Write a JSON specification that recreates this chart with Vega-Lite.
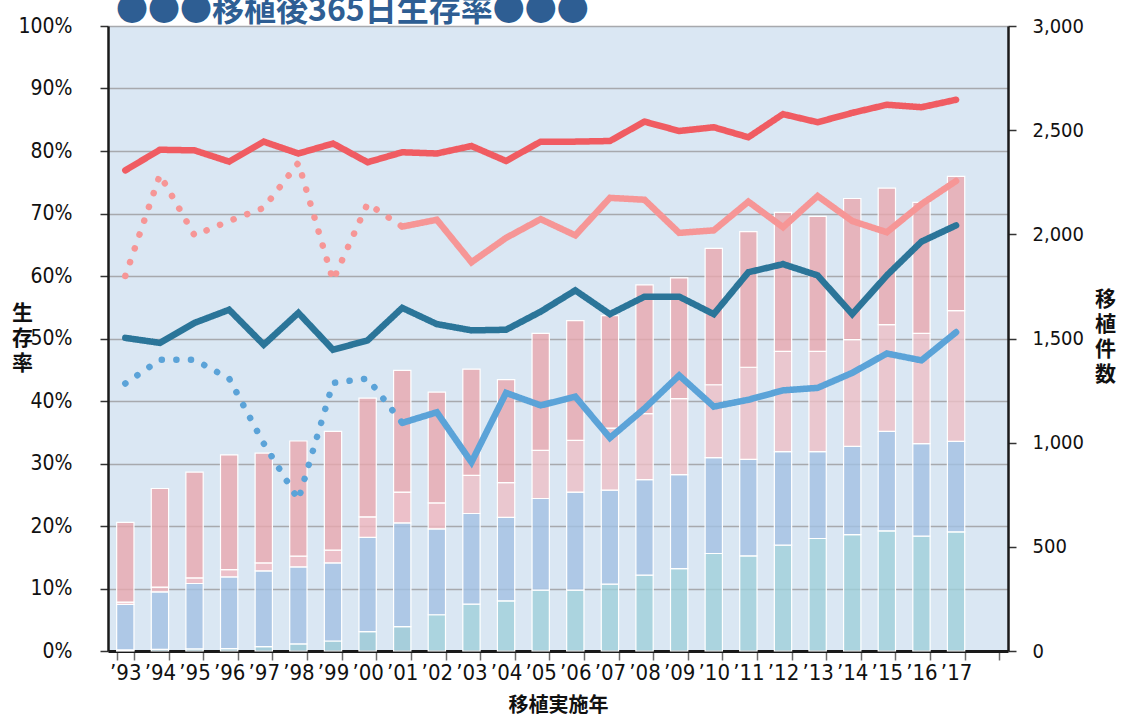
{
  "$schema": "https://vega.github.io/schema/vega-lite/v6.json",
  "width": 900,
  "height": 625,
  "autosize": {"type": "none"},
  "padding": {"left": 108, "top": 26, "right": 113, "bottom": 67},
  "background": "white",
  "config": {
    "view": {"fill": "#dae7f3", "stroke": null},
    "font": "Liberation Sans"
  },
  "title": {
    "text": "●●●移植後365日生存率●●●",
    "anchor": "start",
    "frame": "group",
    "orient": "top",
    "font": "Noto Sans CJK JP",
    "fontSize": 32,
    "fontWeight": "bold",
    "color": "#2e5e93",
    "offset": 0,
    "dx": 8,
    "dy": 38,
    "baseline": "alphabetic"
  },
  "datasets": {
    "bars": [
      {"year": "’93", "seg": "s1h", "n": 5}, {"year": "’93", "seg": "s2", "n": 219}, {"year": "’93", "seg": "s3h", "n": 11}, {"year": "’93", "seg": "s4", "n": 382},
      {"year": "’94", "seg": "s1h", "n": 8}, {"year": "’94", "seg": "s2", "n": 276}, {"year": "’94", "seg": "s3h", "n": 23}, {"year": "’94", "seg": "s4", "n": 473},
      {"year": "’95", "seg": "s1h", "n": 10}, {"year": "’95", "seg": "s2", "n": 314}, {"year": "’95", "seg": "s3h", "n": 27}, {"year": "’95", "seg": "s4", "n": 508},
      {"year": "’96", "seg": "s1h", "n": 11}, {"year": "’96", "seg": "s2", "n": 345}, {"year": "’96", "seg": "s3h", "n": 35}, {"year": "’96", "seg": "s4", "n": 550},
      {"year": "’97", "seg": "s1h", "n": 21}, {"year": "’97", "seg": "s2", "n": 364}, {"year": "’97", "seg": "s3h", "n": 38}, {"year": "’97", "seg": "s4", "n": 527},
      {"year": "’98", "seg": "s1h", "n": 34}, {"year": "’98", "seg": "s2", "n": 370}, {"year": "’98", "seg": "s3h", "n": 51}, {"year": "’98", "seg": "s4", "n": 553},
      {"year": "’99", "seg": "s1h", "n": 48}, {"year": "’99", "seg": "s2", "n": 375}, {"year": "’99", "seg": "s3h", "n": 61}, {"year": "’99", "seg": "s4", "n": 570},
      {"year": "’00", "seg": "s1h", "n": 93}, {"year": "’00", "seg": "s2", "n": 452}, {"year": "’00", "seg": "s3h", "n": 99}, {"year": "’00", "seg": "s4", "n": 570},
      {"year": "’01", "seg": "s1h", "n": 117}, {"year": "’01", "seg": "s2", "n": 498}, {"year": "’01", "seg": "s3h", "n": 148}, {"year": "’01", "seg": "s4", "n": 584},
      {"year": "’02", "seg": "s1", "n": 174}, {"year": "’02", "seg": "s2", "n": 412}, {"year": "’02", "seg": "s3h", "n": 125}, {"year": "’02", "seg": "s4", "n": 532},
      {"year": "’03", "seg": "s1", "n": 225}, {"year": "’03", "seg": "s2", "n": 435}, {"year": "’03", "seg": "s3", "n": 183}, {"year": "’03", "seg": "s4", "n": 510},
      {"year": "’04", "seg": "s1", "n": 241}, {"year": "’04", "seg": "s2", "n": 400}, {"year": "’04", "seg": "s3", "n": 167}, {"year": "’04", "seg": "s4", "n": 495},
      {"year": "’05", "seg": "s1", "n": 292}, {"year": "’05", "seg": "s2", "n": 440}, {"year": "’05", "seg": "s3", "n": 231}, {"year": "’05", "seg": "s4", "n": 562},
      {"year": "’06", "seg": "s1", "n": 292}, {"year": "’06", "seg": "s2", "n": 471}, {"year": "’06", "seg": "s3", "n": 248}, {"year": "’06", "seg": "s4", "n": 575},
      {"year": "’07", "seg": "s1", "n": 321}, {"year": "’07", "seg": "s2", "n": 451}, {"year": "’07", "seg": "s3", "n": 298}, {"year": "’07", "seg": "s4", "n": 540},
      {"year": "’08", "seg": "s1", "n": 364}, {"year": "’08", "seg": "s2", "n": 459}, {"year": "’08", "seg": "s3", "n": 316}, {"year": "’08", "seg": "s4", "n": 618},
      {"year": "’09", "seg": "s1", "n": 395}, {"year": "’09", "seg": "s2", "n": 452}, {"year": "’09", "seg": "s3", "n": 364}, {"year": "’09", "seg": "s4", "n": 580},
      {"year": "’10", "seg": "s1", "n": 468}, {"year": "’10", "seg": "s2", "n": 460}, {"year": "’10", "seg": "s3", "n": 350}, {"year": "’10", "seg": "s4", "n": 655},
      {"year": "’11", "seg": "s1", "n": 457}, {"year": "’11", "seg": "s2", "n": 463}, {"year": "’11", "seg": "s3", "n": 442}, {"year": "’11", "seg": "s4", "n": 651},
      {"year": "’12", "seg": "s1", "n": 508}, {"year": "’12", "seg": "s2", "n": 449}, {"year": "’12", "seg": "s3", "n": 481}, {"year": "’12", "seg": "s4", "n": 667},
      {"year": "’13", "seg": "s1", "n": 540}, {"year": "’13", "seg": "s2", "n": 417}, {"year": "’13", "seg": "s3", "n": 481}, {"year": "’13", "seg": "s4", "n": 648},
      {"year": "’14", "seg": "s1", "n": 559}, {"year": "’14", "seg": "s2", "n": 423}, {"year": "’14", "seg": "s3", "n": 513}, {"year": "’14", "seg": "s4", "n": 677},
      {"year": "’15", "seg": "s1", "n": 577}, {"year": "’15", "seg": "s2", "n": 477}, {"year": "’15", "seg": "s3", "n": 513}, {"year": "’15", "seg": "s4", "n": 655},
      {"year": "’16", "seg": "s1", "n": 551}, {"year": "’16", "seg": "s2", "n": 444}, {"year": "’16", "seg": "s3", "n": 530}, {"year": "’16", "seg": "s4", "n": 628},
      {"year": "’17", "seg": "s1", "n": 572}, {"year": "’17", "seg": "s2", "n": 434}, {"year": "’17", "seg": "s3", "n": 628}, {"year": "’17", "seg": "s4", "n": 644}
    ],
    "lines": [
      {"year": "’93", "series": "L1", "period": "b", "pct": 76.9},
      {"year": "’94", "series": "L1", "period": "b", "pct": 80.2},
      {"year": "’95", "series": "L1", "period": "b", "pct": 80.1},
      {"year": "’96", "series": "L1", "period": "b", "pct": 78.3},
      {"year": "’97", "series": "L1", "period": "b", "pct": 81.5},
      {"year": "’98", "series": "L1", "period": "b", "pct": 79.6},
      {"year": "’99", "series": "L1", "period": "b", "pct": 81.2},
      {"year": "’00", "series": "L1", "period": "b", "pct": 78.2},
      {"year": "’01", "series": "L1", "period": "b", "pct": 79.8},
      {"year": "’02", "series": "L1", "period": "b", "pct": 79.6},
      {"year": "’03", "series": "L1", "period": "b", "pct": 80.8},
      {"year": "’04", "series": "L1", "period": "b", "pct": 78.4},
      {"year": "’05", "series": "L1", "period": "b", "pct": 81.5},
      {"year": "’06", "series": "L1", "period": "b", "pct": 81.5},
      {"year": "’07", "series": "L1", "period": "b", "pct": 81.6},
      {"year": "’08", "series": "L1", "period": "b", "pct": 84.7},
      {"year": "’09", "series": "L1", "period": "b", "pct": 83.2},
      {"year": "’10", "series": "L1", "period": "b", "pct": 83.8},
      {"year": "’11", "series": "L1", "period": "b", "pct": 82.2},
      {"year": "’12", "series": "L1", "period": "b", "pct": 85.9},
      {"year": "’13", "series": "L1", "period": "b", "pct": 84.6},
      {"year": "’14", "series": "L1", "period": "b", "pct": 86.1},
      {"year": "’15", "series": "L1", "period": "b", "pct": 87.4},
      {"year": "’16", "series": "L1", "period": "b", "pct": 87.0},
      {"year": "’17", "series": "L1", "period": "b", "pct": 88.2},

      {"year": "’93", "series": "L2", "period": "a", "pct": 60.0},
      {"year": "’94", "series": "L2", "period": "a", "pct": 76.2},
      {"year": "’95", "series": "L2", "period": "a", "pct": 66.5},
      {"year": "’96", "series": "L2", "period": "a", "pct": 68.8},
      {"year": "’97", "series": "L2", "period": "a", "pct": 70.9},
      {"year": "’98", "series": "L2", "period": "a", "pct": 78.1},
      {"year": "’99", "series": "L2", "period": "a", "pct": 59.3},
      {"year": "’00", "series": "L2", "period": "a", "pct": 71.6},
      {"year": "’01", "series": "L2", "period": "a", "pct": 67.9},
      {"year": "’01", "series": "L2", "period": "b", "pct": 67.9},
      {"year": "’02", "series": "L2", "period": "b", "pct": 69.0},
      {"year": "’03", "series": "L2", "period": "b", "pct": 62.2},
      {"year": "’04", "series": "L2", "period": "b", "pct": 66.1},
      {"year": "’05", "series": "L2", "period": "b", "pct": 69.1},
      {"year": "’06", "series": "L2", "period": "b", "pct": 66.5},
      {"year": "’07", "series": "L2", "period": "b", "pct": 72.5},
      {"year": "’08", "series": "L2", "period": "b", "pct": 72.2},
      {"year": "’09", "series": "L2", "period": "b", "pct": 66.9},
      {"year": "’10", "series": "L2", "period": "b", "pct": 67.3},
      {"year": "’11", "series": "L2", "period": "b", "pct": 71.9},
      {"year": "’12", "series": "L2", "period": "b", "pct": 67.8},
      {"year": "’13", "series": "L2", "period": "b", "pct": 72.8},
      {"year": "’14", "series": "L2", "period": "b", "pct": 68.8},
      {"year": "’15", "series": "L2", "period": "b", "pct": 67.0},
      {"year": "’16", "series": "L2", "period": "b", "pct": 71.5},
      {"year": "’17", "series": "L2", "period": "b", "pct": 75.2},

      {"year": "’93", "series": "L3", "period": "b", "pct": 50.1},
      {"year": "’94", "series": "L3", "period": "b", "pct": 49.3},
      {"year": "’95", "series": "L3", "period": "b", "pct": 52.5},
      {"year": "’96", "series": "L3", "period": "b", "pct": 54.6},
      {"year": "’97", "series": "L3", "period": "b", "pct": 49.0},
      {"year": "’98", "series": "L3", "period": "b", "pct": 54.1},
      {"year": "’99", "series": "L3", "period": "b", "pct": 48.2},
      {"year": "’00", "series": "L3", "period": "b", "pct": 49.7},
      {"year": "’01", "series": "L3", "period": "b", "pct": 54.9},
      {"year": "’02", "series": "L3", "period": "b", "pct": 52.3},
      {"year": "’03", "series": "L3", "period": "b", "pct": 51.3},
      {"year": "’04", "series": "L3", "period": "b", "pct": 51.4},
      {"year": "’05", "series": "L3", "period": "b", "pct": 54.3},
      {"year": "’06", "series": "L3", "period": "b", "pct": 57.7},
      {"year": "’07", "series": "L3", "period": "b", "pct": 53.9},
      {"year": "’08", "series": "L3", "period": "b", "pct": 56.7},
      {"year": "’09", "series": "L3", "period": "b", "pct": 56.7},
      {"year": "’10", "series": "L3", "period": "b", "pct": 53.9},
      {"year": "’11", "series": "L3", "period": "b", "pct": 60.6},
      {"year": "’12", "series": "L3", "period": "b", "pct": 61.9},
      {"year": "’13", "series": "L3", "period": "b", "pct": 60.1},
      {"year": "’14", "series": "L3", "period": "b", "pct": 53.9},
      {"year": "’15", "series": "L3", "period": "b", "pct": 60.1},
      {"year": "’16", "series": "L3", "period": "b", "pct": 65.5},
      {"year": "’17", "series": "L3", "period": "b", "pct": 68.1},

      {"year": "’93", "series": "L4", "period": "a", "pct": 42.8},
      {"year": "’94", "series": "L4", "period": "a", "pct": 46.6},
      {"year": "’95", "series": "L4", "period": "a", "pct": 46.6},
      {"year": "’96", "series": "L4", "period": "a", "pct": 43.6},
      {"year": "’97", "series": "L4", "period": "a", "pct": 33.2},
      {"year": "’98", "series": "L4", "period": "a", "pct": 24.2},
      {"year": "’99", "series": "L4", "period": "a", "pct": 42.9},
      {"year": "’00", "series": "L4", "period": "a", "pct": 43.6},
      {"year": "’01", "series": "L4", "period": "a", "pct": 36.5},
      {"year": "’01", "series": "L4", "period": "b", "pct": 36.5},
      {"year": "’02", "series": "L4", "period": "b", "pct": 38.2},
      {"year": "’03", "series": "L4", "period": "b", "pct": 30.2},
      {"year": "’04", "series": "L4", "period": "b", "pct": 41.3},
      {"year": "’05", "series": "L4", "period": "b", "pct": 39.3},
      {"year": "’06", "series": "L4", "period": "b", "pct": 40.7},
      {"year": "’07", "series": "L4", "period": "b", "pct": 34.1},
      {"year": "’08", "series": "L4", "period": "b", "pct": 38.8},
      {"year": "’09", "series": "L4", "period": "b", "pct": 44.1},
      {"year": "’10", "series": "L4", "period": "b", "pct": 39.1},
      {"year": "’11", "series": "L4", "period": "b", "pct": 40.2},
      {"year": "’12", "series": "L4", "period": "b", "pct": 41.7},
      {"year": "’13", "series": "L4", "period": "b", "pct": 42.1},
      {"year": "’14", "series": "L4", "period": "b", "pct": 44.5},
      {"year": "’15", "series": "L4", "period": "b", "pct": 47.6},
      {"year": "’16", "series": "L4", "period": "b", "pct": 46.5},
      {"year": "’17", "series": "L4", "period": "b", "pct": 51.0}
    ]
  },
  "encoding": {
    "x": {
      "field": "year",
      "type": "nominal",
      "scale": {
        "domain": ["’93","’94","’95","’96","’97","’98","’99","’00","’01","’02","’03","’04","’05","’06","’07","’08","’09","’10","’11","’12","’13","’14","’15","’16","’17"," "],
        "paddingInner": 0.5,
        "paddingOuter": 0.25
      },
      "axis": {
        "orient": "bottom",
        "title": "移植実施年",
        "tickBand": "extent",
        "labelAngle": 0,
        "domainColor": "#1a1a1a",
        "domainWidth": 3,
        "tickColor": "#6e6e6e",
        "tickWidth": 1.5,
        "tickSize": 9,
        "labelFont": "DejaVu Sans Condensed",
        "labelFontSize": 22,
        "labelColor": "#111111",
        "labelPadding": 2,
        "titleFont": "Noto Sans CJK JP",
        "titleFontSize": 20,
        "titleFontWeight": "bold",
        "titleColor": "#111111",
        "titleBaseline": "top",
        "titleY": 44,
        "grid": false
      }
    }
  },
  "layer": [
    {
      "data": {"name": "bars"},
      "mark": {"type": "bar", "fillOpacity": 0.8, "stroke": "white", "strokeWidth": 1.2},
      "encoding": {
        "y": {
          "aggregate": "sum",
          "field": "n",
          "type": "quantitative",
          "stack": "zero",
          "scale": {"domain": [0, 3000], "nice": false},
          "axis": {
            "orient": "right",
            "values": [0, 500, 1000, 1500, 2000, 2500, 3000],
            "format": ",.0f",
            "grid": false,
            "domainColor": "#1a1a1a",
            "domainWidth": 2.5,
            "tickColor": "#333333",
            "tickWidth": 1.5,
            "tickSize": 8,
            "labelFont": "DejaVu Sans Condensed",
            "labelFontSize": 20,
            "labelColor": "#111111",
            "labelPadding": 16,
            "title": ["移", "植", "件", "数"],
            "titleAngle": 0,
            "titleAlign": "center",
            "titleBaseline": "top",
            "titleX": 97,
            "titleY": 262,
            "titleFont": "Noto Sans CJK JP",
            "titleFontSize": 21,
            "titleFontWeight": "bold",
            "titleColor": "#111111",
            "titleLineHeight": 25
          }
        },
        "color": {
          "field": "seg",
          "type": "nominal",
          "scale": {
            "domain": ["s1", "s1h", "s2", "s3", "s3h", "s4"],
            "range": ["#9fcfda", "#98c8d4", "#a3c0e2", "#edbfc6", "#f0b6be", "#e9a7ae"]
          },
          "legend": null
        },
        "order": {"field": "seg", "sort": "ascending"}
      }
    },
    {
      "data": {"name": "lines"},
      "mark": {"type": "line", "strokeWidth": 6.5, "strokeCap": "round", "strokeJoin": "miter"},
      "encoding": {
        "y": {
          "field": "pct",
          "type": "quantitative",
          "scale": {"domain": [0, 100], "nice": false},
          "axis": {
            "orient": "left",
            "values": [0, 10, 20, 30, 40, 50, 60, 70, 80, 90, 100],
            "labelExpr": "datum.value + '%'",
            "grid": true,
            "gridColor": "#a7a9ad",
            "gridWidth": 1.5,
            "domainColor": "#1a1a1a",
            "domainWidth": 2.5,
            "tickColor": "#333333",
            "tickWidth": 1.5,
            "tickSize": 8,
            "labelFont": "DejaVu Sans Condensed",
            "labelFontSize": 21,
            "labelColor": "#111111",
            "labelPadding": 28,
            "title": ["生", "存", "率"],
            "titleAngle": 0,
            "titleAlign": "center",
            "titleBaseline": "top",
            "titleX": -86,
            "titleY": 276,
            "titleFont": "Noto Sans CJK JP",
            "titleFontSize": 21,
            "titleFontWeight": "bold",
            "titleColor": "#111111",
            "titleLineHeight": 25
          }
        },
        "color": {
          "field": "series",
          "type": "nominal",
          "scale": {
            "domain": ["L1", "L2", "L3", "L4"],
            "range": ["#f05c62", "#f69696", "#2b7599", "#5ba3d8"]
          },
          "legend": null
        },
        "strokeDash": {
          "field": "period",
          "type": "nominal",
          "scale": {"domain": ["a", "b"], "range": [[0.1, 14.5], [1, 0]]},
          "legend": null
        },
        "order": {"value": null}
      }
    }
  ],
  "resolve": {"scale": {"y": "independent", "color": "independent"}}
}
